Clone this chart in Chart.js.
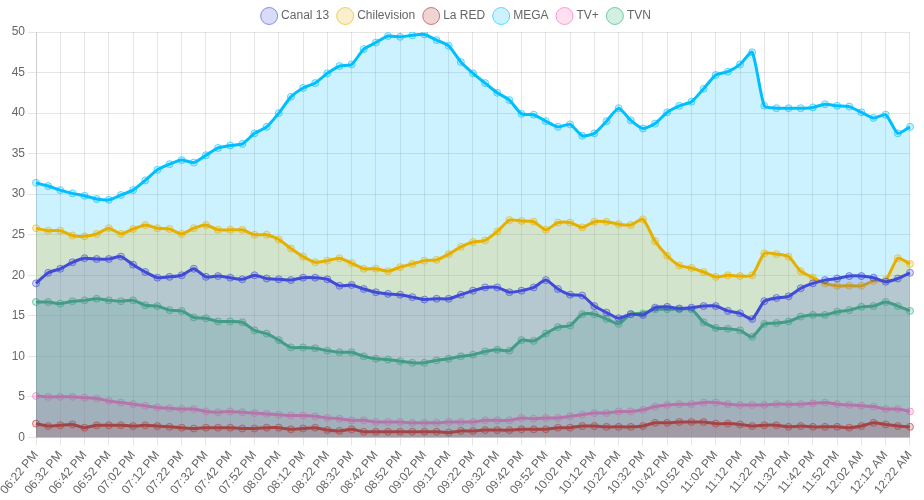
<!DOCTYPE html>
<html>
<head>
<meta charset="utf-8">
<script src="https://cdn.jsdelivr.net/npm/chart.js@4/dist/chart.umd.min.js"></script>
<style>
  html, body { margin: 0; padding: 0; background: #fff; }
  #wrap { width: 924px; height: 500px; position: relative; }
</style>
</head>
<body>
<div id="wrap"><canvas id="c"></canvas></div>
<script>
const labels = [
  "06:22 PM","06:27 PM","06:32 PM","06:37 PM","06:42 PM","06:47 PM","06:52 PM","06:57 PM",
  "07:02 PM","07:07 PM","07:12 PM","07:17 PM","07:22 PM","07:27 PM","07:32 PM","07:37 PM",
  "07:42 PM","07:47 PM","07:52 PM","07:57 PM","08:02 PM","08:07 PM","08:12 PM","08:17 PM",
  "08:22 PM","08:27 PM","08:32 PM","08:37 PM","08:42 PM","08:47 PM","08:52 PM","08:57 PM",
  "09:02 PM","09:07 PM","09:12 PM","09:17 PM","09:22 PM","09:27 PM","09:32 PM","09:37 PM",
  "09:42 PM","09:47 PM","09:52 PM","09:57 PM","10:02 PM","10:07 PM","10:12 PM","10:17 PM",
  "10:22 PM","10:27 PM","10:32 PM","10:37 PM","10:42 PM","10:47 PM","10:52 PM","10:57 PM",
  "11:02 PM","11:07 PM","11:12 PM","11:17 PM","11:22 PM","11:27 PM","11:32 PM","11:37 PM",
  "11:42 PM","11:47 PM","11:52 PM","11:57 PM","12:02 AM","12:07 AM","12:12 AM","12:17 AM",
  "12:22 AM"
];

const canal13 = [
  19.0,20.3,20.8,21.6,22.1,22.0,22.0,22.3,21.3,20.4,19.7,19.8,
  20.0,20.8,19.8,19.9,19.7,19.5,20.0,19.6,19.5,19.4,19.7,19.7,
  19.5,18.7,18.8,18.3,17.9,17.7,17.6,17.3,17.0,17.1,17.1,17.6,
  18.1,18.5,18.5,17.9,18.1,18.5,19.4,18.3,17.6,17.5,16.2,15.4,14.7,
  15.2,15.1,16.0,16.1,15.9,16.0,16.2,16.2,15.6,15.3,14.6,16.8,
  17.2,17.4,18.4,19.0,19.4,19.6,19.9,19.9,19.7,19.2,19.6,20.3
];
const chilevision = [
  25.8,25.5,25.5,24.9,24.8,25.1,25.8,25.1,25.7,26.2,25.8,25.7,
  25.1,25.8,26.2,25.6,25.6,25.6,25.0,25.0,24.4,23.3,22.3,21.6,
  21.8,22.1,21.5,20.8,20.8,20.5,21.0,21.4,21.8,21.9,22.6,23.5,
  24.1,24.3,25.4,26.8,26.7,26.6,25.6,26.5,26.5,25.9,26.6,26.6,26.3,
  26.2,26.9,24.2,22.4,21.2,20.9,20.4,19.8,20.0,19.9,20.0,22.7,
  22.6,22.3,20.5,19.7,19.0,18.7,18.7,18.7,19.3,19.4,22.1,21.4
];
const laRed = [
  1.7,1.4,1.5,1.6,1.2,1.5,1.5,1.5,1.4,1.5,1.4,1.3,
  1.2,1.1,1.2,1.2,1.2,1.1,1.1,1.2,1.2,1.0,1.1,1.2,
  0.9,0.8,1.0,0.7,0.7,0.7,0.7,0.7,0.7,0.7,0.6,0.8,
  0.8,0.9,0.9,0.9,1.0,1.0,1.0,1.2,1.2,1.4,1.4,1.3,1.3,
  1.3,1.4,1.8,1.8,1.9,1.9,1.9,1.7,1.7,1.6,1.4,1.5,
  1.5,1.3,1.4,1.3,1.3,1.3,1.2,1.4,1.8,1.6,1.4,1.3
];
const mega = [
  31.4,31.0,30.5,30.1,29.8,29.4,29.3,29.9,30.5,31.7,33.0,33.7,
  34.2,33.9,34.8,35.7,36.0,36.2,37.5,38.3,40.0,42.0,43.1,43.7,
  44.9,45.8,46.0,47.9,48.7,49.5,49.4,49.6,49.7,49.0,48.3,46.3,
  44.9,43.7,42.5,41.6,39.9,39.8,39.0,38.3,38.6,37.2,37.5,39.0,40.6,
  39.1,38.1,38.7,40.1,40.9,41.4,43.0,44.7,45.1,46.0,47.5,40.9,
  40.6,40.6,40.6,40.7,41.1,40.9,40.8,40.1,39.4,39.8,37.5,38.3
];
const tvPlus = [
  5.1,5.0,5.0,5.0,4.9,4.8,4.5,4.3,4.1,3.9,3.7,3.6,
  3.5,3.5,3.2,3.1,3.2,3.1,3.0,2.9,2.8,2.7,2.7,2.6,
  2.4,2.3,2.1,2.1,1.9,1.9,1.9,1.8,1.8,1.8,1.9,1.9,
  1.9,2.1,2.1,2.1,2.4,2.3,2.4,2.4,2.6,2.8,3.0,3.0,3.2,
  3.2,3.4,3.8,4.0,4.1,4.1,4.3,4.3,4.1,4.0,4.0,4.0,
  4.1,4.1,4.1,4.2,4.3,4.1,4.0,3.9,3.8,3.5,3.5,3.2
];
const tvn = [
  16.7,16.7,16.5,16.8,16.9,17.1,16.9,16.8,16.9,16.3,16.2,15.7,
  15.6,14.8,14.7,14.3,14.3,14.2,13.2,12.8,12.0,11.1,11.1,11.0,
  10.7,10.5,10.5,10.0,9.7,9.6,9.4,9.2,9.2,9.5,9.7,10.0,
  10.2,10.6,10.8,10.7,12.0,11.9,12.8,13.6,13.8,15.2,15.2,14.6,14.0,
  15.2,15.3,15.8,15.8,15.8,15.8,14.2,13.5,13.4,13.2,12.4,14.0,
  14.1,14.3,14.9,15.1,15.1,15.5,15.7,16.1,16.2,16.7,16.2,15.6
];

const seriesNames = ["Canal 13","Chilevision","La RED","MEGA","TV+","TVN"];
const seriesData = [canal13, chilevision, laRed, mega, tvPlus, tvn];
const seriesColors = [
  [65,75,215],
  [230,176,0],
  [180,40,40],
  [0,191,255],
  [255,100,185],
  [35,175,115]
];

const datasets = seriesNames.map((name, i) => {
  const [r,g,b] = seriesColors[i];
  return {
    label: name,
    data: seriesData[i],
    borderColor: `rgb(${r},${g},${b})`,
    backgroundColor: `rgba(${r},${g},${b},0.2)`,
    pointBorderColor: `rgba(${r},${g},${b},0.6)`,
    pointBackgroundColor: `rgba(${r},${g},${b},0.2)`,
    borderWidth: 3,
    pointRadius: 3.5,
    pointBorderWidth: 1,
    tension: 0.2,
    fill: true
  };
});

new Chart(document.getElementById('c'), {
  type: 'line',
  data: { labels, datasets },
  options: {
    responsive: true,
    maintainAspectRatio: false,
    animation: false,
    layout: { padding: { left: 0, right: 10, top: 0, bottom: 0 } },
    plugins: {
      legend: {
        position: 'top',
        labels: { usePointStyle: true, color: '#666', font: { size: 12 } }
      },
      tooltip: { enabled: false }
    },
    scales: {
      x: {
        ticks: { color: '#666', maxRotation: 50, minRotation: 50, font: { size: 12 } },
        grid: { color: 'rgba(0,0,0,0.1)' }
      },
      y: {
        min: 0, max: 50,
        ticks: { stepSize: 5, color: '#666', font: { size: 12 } },
        grid: { color: 'rgba(0,0,0,0.1)' }
      }
    }
  }
});
</script>
</body>
</html>
